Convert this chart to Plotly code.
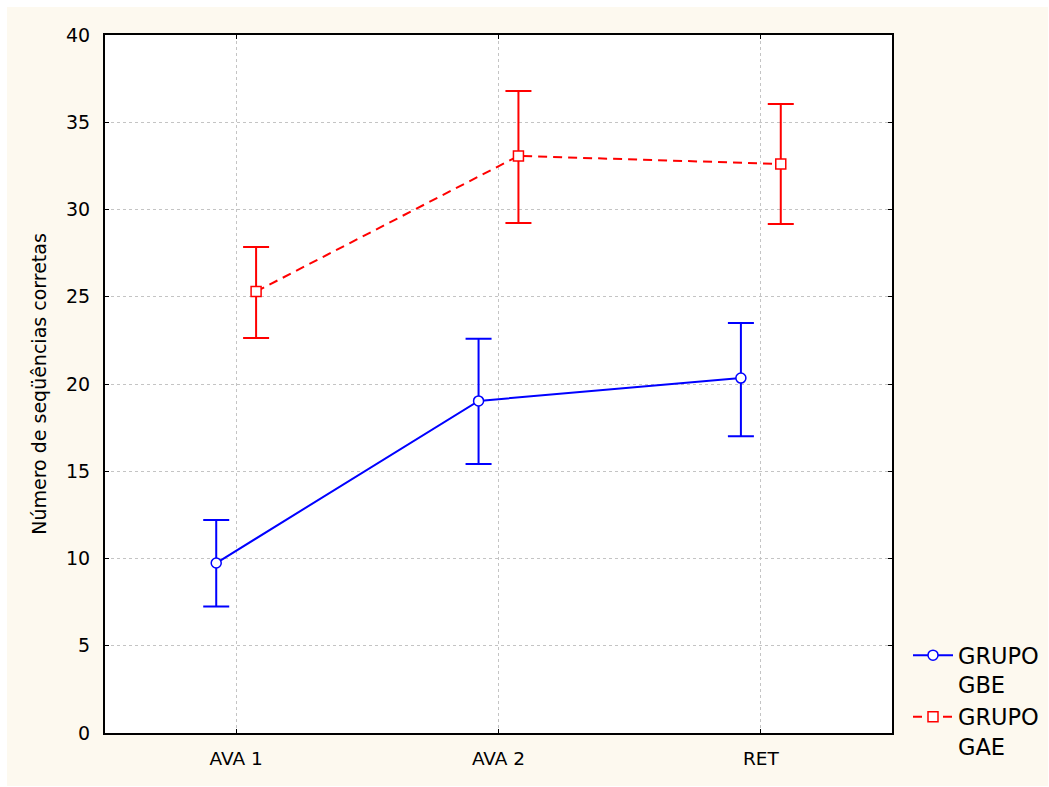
import plotly.graph_objects as go

categories = ["AVA 1", "AVA 2", "RET"]
gbe_mean = [9.74, 19.03, 20.34]
gbe_upper = [12.2, 22.6, 23.5]
gbe_lower = [7.25, 15.42, 17.0]
gae_mean = [25.3, 33.07, 32.61]
gae_upper = [27.85, 36.79, 36.05]
gae_lower = [22.64, 29.23, 29.17]
y_ticks = [0, 5, 10, 15, 20, 25, 30, 35, 40]

W, H = 1049, 787
L, R, T, B = 105, 157, 35, 54
pw, ph = W - L - R, H - T - B

offset = 0.076
xpos = list(range(len(categories)))

fig = go.Figure()
fig.add_trace(go.Scatter(
    x=[i - offset for i in xpos], y=gbe_mean, name="GRUPO<br>GBE",
    mode="lines+markers",
    line=dict(color="#0000ff", width=2),
    marker=dict(symbol="circle", size=10, color="white", line=dict(color="#0000ff", width=1.5)),
    error_y=dict(type="data", symmetric=False,
                 array=[u - m for u, m in zip(gbe_upper, gbe_mean)],
                 arrayminus=[m - l for m, l in zip(gbe_mean, gbe_lower)],
                 color="#0000ff", thickness=2, width=13),
))
fig.add_trace(go.Scatter(
    x=[i + offset for i in xpos], y=gae_mean, name="GRUPO<br>GAE",
    mode="lines+markers",
    line=dict(color="#ff0000", width=2, dash="9px,6px"),
    marker=dict(symbol="square", size=10, color="white", line=dict(color="#ff0000", width=1.5)),
    error_y=dict(type="data", symmetric=False,
                 array=[u - m for u, m in zip(gae_upper, gae_mean)],
                 arrayminus=[m - l for m, l in zip(gae_mean, gae_lower)],
                 color="#ff0000", thickness=2, width=13),
))

def px_x(p):
    return (p - L) / pw

def px_y(p):
    return (H - B - p) / ph

shapes = [
    dict(type="rect", xref="paper", yref="paper", layer="below",
         x0=px_x(7), x1=px_x(1048), y0=px_y(786), y1=px_y(7),
         fillcolor="#fdf9ef", line=dict(width=0)),
    dict(type="rect", xref="paper", yref="paper", layer="below",
         x0=0, x1=1, y0=0, y1=1, fillcolor="white", line=dict(width=0)),
]

font_family = "DejaVu Sans, Liberation Sans, Arial, sans-serif"
fig.update_layout(
    width=W, height=H,
    margin=dict(l=L, r=R, t=T, b=B, pad=0),
    paper_bgcolor="white", plot_bgcolor="rgba(0,0,0,0)",
    font=dict(family=font_family, size=18, color="black"),
    shapes=shapes,
    showlegend=True,
    legend=dict(xref="container", yref="container",
                x=908 / W, y=1 - 634 / H, xanchor="left", yanchor="top",
                bgcolor="rgba(0,0,0,0)", font=dict(size=22.5), valign="top",
                tracegroupgap=0, itemwidth=40, borderwidth=0),
    xaxis=dict(range=[-0.5, 2.5], tickmode="array", tickvals=xpos, ticktext=categories,
               showline=True, linecolor="black", linewidth=2, mirror="allticks",
               ticks="inside", ticklen=4, tickcolor="black",
               showgrid=True, gridcolor="#c4c4c4", griddash="dot", gridwidth=1,
               zeroline=False, fixedrange=True, ticklabelstandoff=8,
               tickfont=dict(size=18.5)),
    yaxis=dict(range=[0, 40], tickmode="array", tickvals=y_ticks,
               showline=True, linecolor="black", linewidth=2, mirror="allticks",
               ticks="inside", ticklen=4, tickcolor="black",
               showgrid=True, gridcolor="#c4c4c4", griddash="dot", gridwidth=1,
               zeroline=False, fixedrange=True, ticklabelstandoff=9,
               tickfont=dict(size=19),
               title=dict(text="Número de seqüências corretas", standoff=14,
                          font=dict(size=19))),
)

fig.write_html("out.html")
